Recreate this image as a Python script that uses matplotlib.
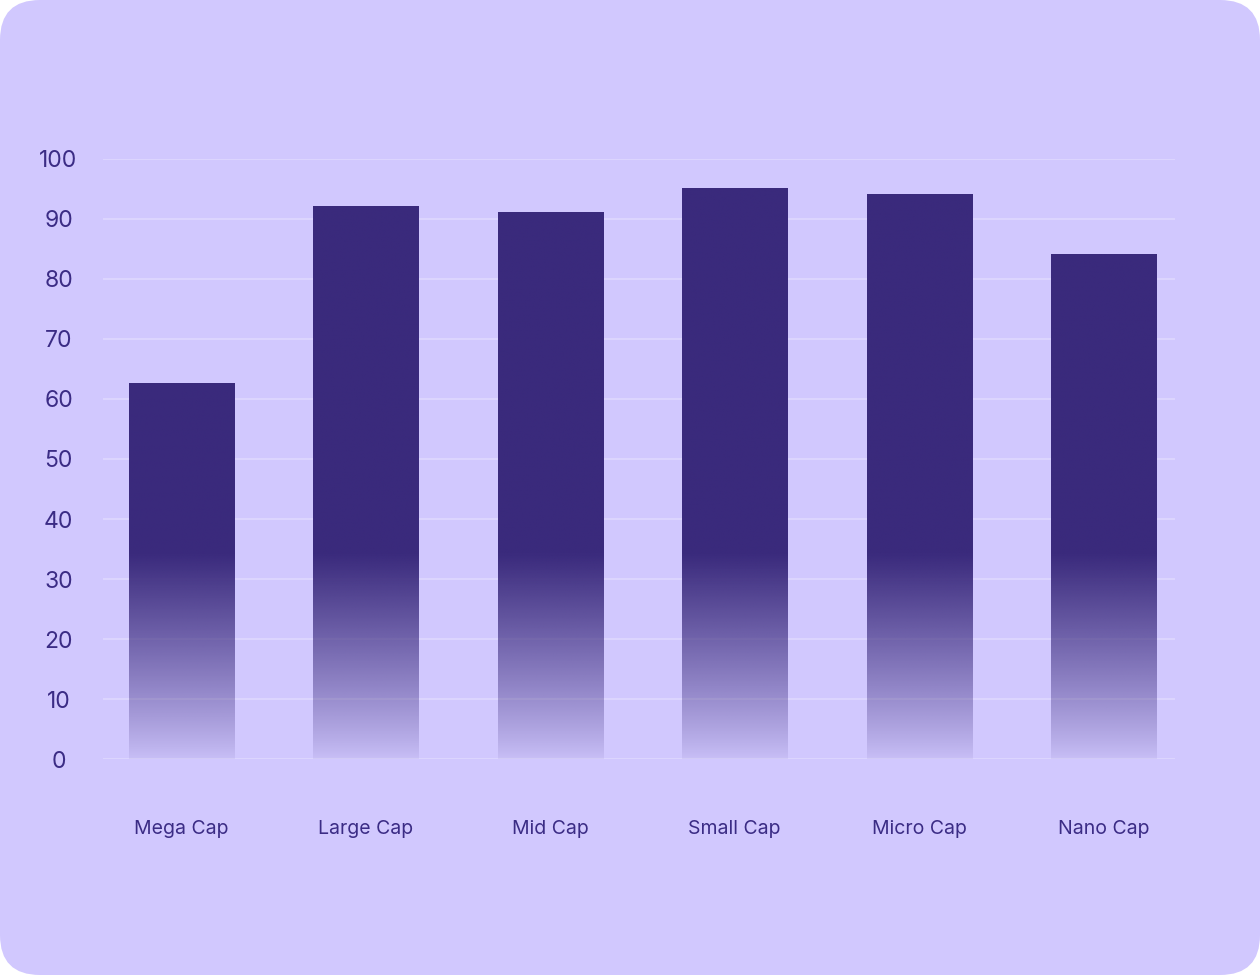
import numpy as np
import matplotlib
matplotlib.use("Agg")
import matplotlib.pyplot as plt
from matplotlib.patches import FancyBboxPatch
from matplotlib.colors import to_rgb

categories = ["Mega Cap", "Large Cap", "Mid Cap", "Small Cap", "Micro Cap", "Nano Cap"]
values = [62.5, 92, 91, 95, 94, 84]
yticks = [0, 10, 20, 30, 40, 50, 60, 70, 80, 90, 100]

bg = "#D1C8FE"
bar_color = "#3A2A7C"
text_color = "#3B2C85"
grid_color = "#DCD5FE"

plt.rcParams["font.family"] = ["Inter", "DejaVu Sans"]

fig = plt.figure(figsize=(12.6, 9.75), dpi=100)
fig.patch.set_facecolor("white")

# rounded card behind everything, drawn in pixel units
bg_ax = fig.add_axes([0, 0, 1, 1], zorder=-1)
bg_ax.set_xlim(0, 1260)
bg_ax.set_ylim(0, 975)
bg_ax.axis("off")
bg_ax.add_patch(FancyBboxPatch((0, 0), 1260, 975, boxstyle="round,pad=0,rounding_size=40",
                               facecolor=bg, edgecolor="none"))

ax = fig.add_axes([103 / 1260, 1 - 759 / 975, (1175 - 103) / 1260, 600 / 975])
ax.set_facecolor("none")

for y in yticks:
    ax.axhline(y, color=grid_color, lw=1.5, zorder=1)

# bars with fade-out toward the baseline
width = 0.57
rgb = np.array(to_rgb(bar_color))
n = 400
for i, v in enumerate(values):
    ys = np.linspace(v, 0, n)
    alpha = np.clip(ys / 34.0, 0, 1) ** 0.9
    alpha = 0.06 + 0.94 * alpha
    img = np.zeros((n, 1, 4))
    img[:, 0, :3] = rgb
    img[:, 0, 3] = alpha
    ax.imshow(img, extent=(i - width / 2, i + width / 2, 0, v), aspect="auto",
              interpolation="bilinear", zorder=2)
ax.set_xlim(-0.426, 5.388)
ax.set_ylim(0, 100)

for s in ax.spines.values():
    s.set_visible(False)
ax.tick_params(length=0)
ax.set_yticks(yticks)
ax.set_yticklabels([str(t) for t in yticks], fontsize=16.5, color=text_color, ha="center")
ax.tick_params(axis="y", pad=32)
ax.set_xticks(range(len(categories)))
ax.set_xticklabels(categories, fontsize=14, color=text_color)
ax.tick_params(axis="x", pad=44)

fig.savefig("out.png", dpi=100, facecolor="white")
